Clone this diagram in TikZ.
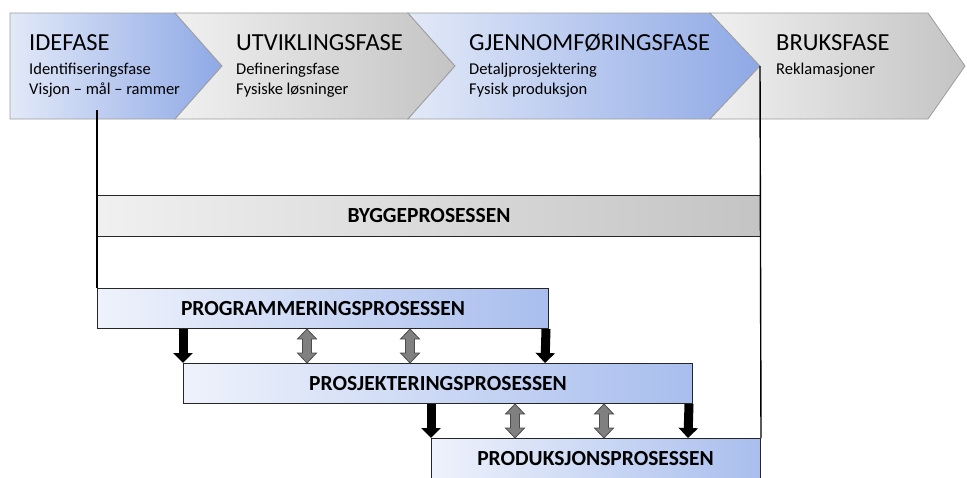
\documentclass[tikz,border=0pt]{standalone}
\usepackage{fontspec}
\setmainfont{Carlito}
\usetikzlibrary{arrows.meta,calc}

\definecolor{blueL}{HTML}{E2E9F8}
\definecolor{blueD}{HTML}{8FA9E6}
\definecolor{greyL}{HTML}{F0F0F0}
\definecolor{greyD}{HTML}{C4C4C4}
\definecolor{boxBlueL}{HTML}{EEF2FB}
\definecolor{boxBlueD}{HTML}{A9BEEE}
\definecolor{edgeGrey}{HTML}{9C9C9C}

\tikzset{
  bluechev/.style={left color=blueL, right color=blueD, draw=edgeGrey, line width=0.8pt},
  greychev/.style={left color=greyL, right color=greyD, draw=edgeGrey, line width=0.8pt},
  phasetitle/.style={anchor=base west, font=\fontsize{24.5}{26}\selectfont, inner sep=0pt},
  phasesub/.style={anchor=base west, font=\fontsize{16.5}{20}\selectfont, inner sep=0pt},
  procbox/.style={draw=black!85, line width=1pt, left color=boxBlueL, right color=boxBlueD,
    font=\bfseries\fontsize{21.5}{24}\selectfont, inner sep=0pt},
  bygg/.style={draw=black!85, line width=1pt, left color=greyL, right color=greyD,
    font=\bfseries\fontsize{21.5}{24}\selectfont, inner sep=0pt},
  frameline/.style={line width=1.4pt, black},
  handover/.style={line width=9pt, black, -{Triangle[width=19pt,length=10pt]}},
}

% grey two-headed exchange arrow between two stacked processes
\newcommand{\exchangearrow}[2]{%
  \path let \p1=(#1), \p2=(#2) in
    [fill=black!50, draw=black!70, line width=0.8pt]
    (\x1-4.5pt,\y1-10pt) -- (\x1-9.5pt,\y1-10pt) -- (\x1,\y1) -- (\x1+9.5pt,\y1-10pt) -- (\x1+4.5pt,\y1-10pt)
    -- (\x2+4.5pt,\y2+10pt) -- (\x2+9.5pt,\y2+10pt) -- (\x2,\y2) -- (\x2-9.5pt,\y2+10pt) -- (\x2-4.5pt,\y2+10pt) -- cycle;%
}

\begin{document}
\begin{tikzpicture}[x=1pt,y=-1pt]
\useasboundingbox (0,0) rectangle (967,477);

% phase chevrons
\path[bluechev] (10,13) -- (175,13) -- (222,66) -- (175,119) -- (10,119) -- cycle;
\path[greychev] (175,13) -- (408,13) -- (455,66) -- (408,119) -- (175,119) -- (222,66) -- cycle;
\path[bluechev] (408,13) -- (710,13) -- (760,66) -- (710,119) -- (408,119) -- (455,66) -- cycle;
\path[greychev] (710,13) -- (928,13) -- (965,66) -- (928,119) -- (710,119) -- (760,66) -- cycle;

% phase texts
\node[phasetitle] (t1) at (29,50) {IDEFASE};
\node[phasesub] (s1a) at (29,74) {Identifiseringsfase};
\node[phasesub] (s1b) at (29,94) {Visjon – mål – rammer};
\node[phasetitle] (t2) at (236,50) {UTVIKLINGSFASE};
\node[phasesub] (s2a) at (236,74) {Defineringsfase};
\node[phasesub] (s2b) at (236,94) {Fysiske løsninger};
\node[phasetitle] (t3) at (469,50) {GJENNOMFØRINGSFASE};
\node[phasesub] (s3a) at (469,74) {Detaljprosjektering};
\node[phasesub] (s3b) at (469,94) {Fysisk produksjon};
\node[phasetitle] (t4) at (776,50) {BRUKSFASE};
\node[phasesub] (s4a) at (776,74) {Reklamasjoner};

% anchors of the frame lines
\coordinate (startmark) at (97,110);
\coordinate (endmark) at (760,66);

% process boxes
\node[bygg, minimum width=663pt, minimum height=41pt, anchor=north west] (bygg) at (97,195) {BYGGEPROSESSEN};
\node[procbox, minimum width=451pt, minimum height=40pt, anchor=north west] (prog) at (97,288) {PROGRAMMERINGSPROSESSEN};
\node[procbox, minimum width=509pt, minimum height=40pt, anchor=north west] (proj) at (183,363) {PROSJEKTERINGSPROSESSEN};
\begin{scope}
\clip (0,0) rectangle (967,477);
\node[procbox, minimum width=329pt, minimum height=45pt, anchor=north west] (prod) at (431,438) {};
\node[font=\bfseries\fontsize{21.5}{24}\selectfont, inner sep=0pt] (prodtext) at (595.5,459) {PRODUKSJONSPROSESSEN};
\end{scope}

% frame lines from the phases down to the processes
\draw[frameline] (startmark) -- (prog.north west);
\draw[frameline] (endmark) -- (prod.north east);

% handovers between processes
\draw[handover] (prog.south west -| proj.north west) -- (proj.north west);
\draw[handover] (prog.south east) ++(-3,0) -- ($(proj.north west)+(362,0)$);
\draw[handover] (proj.south west -| prod.north west) -- (prod.north west);
\draw[handover] (proj.south east) ++(-4,0) -- ($(prod.north west)+(257,0)$);

% two-way exchange between processes
\exchangearrow{$(prog.south west)+(210,0)$}{$(proj.north west)+(124,0)$}
\exchangearrow{$(prog.south west)+(313,0)$}{$(proj.north west)+(227,0)$}
\exchangearrow{$(proj.south west)+(332,0)$}{$(prod.north west)+(84,0)$}
\exchangearrow{$(proj.south west)+(421,0)$}{$(prod.north west)+(173,0)$}
\end{tikzpicture}
\end{document}
